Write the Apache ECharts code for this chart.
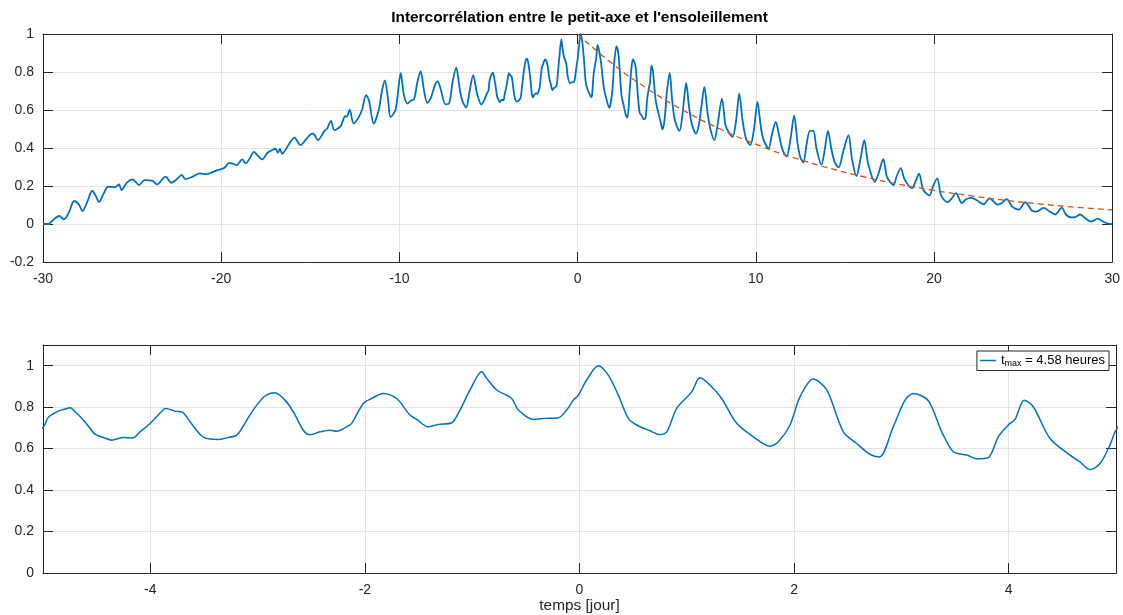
<!DOCTYPE html>
<html><head><meta charset="utf-8">
<script src="https://cdn.jsdelivr.net/npm/echarts@6/dist/echarts.min.js"></script>
<style>html,body{margin:0;padding:0;background:#fff}#c{width:1123px;height:615px}</style>
</head><body><div id="c"></div>
<script>
// Cross-correlation: lag (days) and value
const corrT = [
-30,-29.7,-29.45,-29.09,-28.83,-28.55,-28.25,-28.0,-27.78,-27.5,-27.24,-27.05,-26.85,-26.6,-26.35,-26.15,-25.97,-25.73,-25.6,-25.28,
-24.98,-24.61,-24.3,-23.87,-23.61,-23.12,-22.8,-22.5,-22.21,-22.02,-21.6,-21.22,-20.85,-20.48,-20.21,-19.95,-19.77,-19.56,-19.35,-19.13,
-18.82,-18.63,-18.4,-18.16,-17.95,-17.7,-17.4,-17.14,-16.95,-16.82,-16.7,-16.58,-16.2,-15.89,-15.56,-15.2,-14.9,-14.78,-14.58,-14.2,
-14.06,-13.84,-13.65,-13.3,-13.04,-12.95,-12.79,-12.57,-12.3,-12.1,-11.87,-11.71,-11.44,-11.16,-10.98,-10.82,-10.63,-10.5,-10.22,-10.05,
-9.93,-9.75,-9.55,-9.35,-9.18,-8.99,-8.81,-8.62,-8.43,-8.25,-8.01,-7.86,-7.69,-7.41,-7.22,-7.0,-6.81,-6.63,-6.48,-6.25,
-6.07,-5.86,-5.64,-5.4,-5.2,-5.08,
-5.0,-4.95,-4.857,-4.795,-4.748,-4.70,-4.609,-4.515,-4.438,-4.36,-4.252,-4.164,-4.096,-4.018,-3.94,-3.854,-3.77,-3.698,-3.63,-3.521,
-3.444,-3.366,-3.288,-3.195,-3.1,-3.024,-2.931,-2.838,-2.745,-2.667,-2.574,-2.512,-2.418,-2.325,-2.263,-2.17,-2.123,-2.015,-1.937,-1.828,
-1.704,-1.58,-1.517,-1.409,-1.316,-1.191,-1.114,-1.02,-0.912,-0.865,-0.772,-0.632,-0.57,-0.43,-0.322,-0.197,-0.12,-0.058,-0.011,0.067,
0.175,0.268,0.362,0.455,0.533,0.657,0.75,0.813,0.906,1.046,1.123,1.216,1.325,1.465,1.62,1.775,1.853,1.962,2.055,2.179,
2.304,2.459,2.583,2.707,2.794,2.924,3.034,3.111,3.251,3.376,3.484,3.609,3.702,3.81,3.903,3.996,4.059,4.143,4.229,4.385,
4.571,4.664,4.758,4.851,4.944,5.0,
5.17,5.3,5.45,5.72,5.85,6.0,6.09,6.25,6.4,6.64,6.8,6.95,7.11,7.3,7.45,7.67,7.85,8.1,8.3,8.5,
8.7,8.9,9.07,9.25,9.45,9.69,9.9,10.09,10.3,10.45,10.72,10.9,11.12,11.3,11.5,11.73,11.95,12.15,12.35,12.5,
12.67,12.85,13.04,13.23,13.4,13.68,13.85,14.05,14.25,14.45,14.65,14.9,15.2,15.4,15.65,15.85,16.09,16.3,16.68,16.9,
17.15,17.35,17.5,17.72,17.9,18.13,18.35,18.76,18.95,19.16,19.4,19.74,19.95,20.18,20.4,20.75,21.0,21.23,21.56,21.8,
22.1,22.4,22.78,23.12,23.57,23.8,24.08,24.4,24.76,25.12,25.5,25.75,26.15,26.5,26.8,27.17,27.4,27.7,27.95,28.2,
28.5,28.8,29.18,29.5,29.75,30
];
const corrV = [
0,0.0,0.02,0.042,0.025,0.06,0.121,0.105,0.068,0.12,0.175,0.15,0.116,0.16,0.196,0.195,0.193,0.208,0.179,0.219,
0.235,0.205,0.231,0.228,0.208,0.249,0.217,0.235,0.259,0.236,0.249,0.266,0.262,0.273,0.284,0.29,0.30,0.322,0.318,0.31,
0.34,0.319,0.345,0.38,0.36,0.34,0.375,0.389,0.396,0.375,0.395,0.37,0.42,0.455,0.415,0.45,0.476,0.472,0.441,0.49,
0.502,0.543,0.494,0.515,0.567,0.565,0.602,0.529,0.56,0.60,0.678,0.651,0.529,0.60,0.70,0.756,0.651,0.563,0.60,0.72,
0.795,0.68,0.634,0.65,0.655,0.747,0.805,0.704,0.637,0.66,0.73,0.751,0.712,0.63,0.633,0.756,0.823,0.721,0.651,0.613,
0.695,0.783,0.686,0.629,0.66,0.69,
0.702,0.751,0.781,0.791,0.797,0.778,0.73,0.67,0.654,0.641,0.654,0.651,0.681,0.714,0.754,0.794,0.781,0.775,0.73,0.661,
0.646,0.644,0.652,0.665,0.738,0.799,0.854,0.87,0.834,0.778,0.689,0.667,0.681,0.689,0.684,0.705,0.722,0.818,0.842,0.866,
0.842,0.762,0.741,0.705,0.717,0.725,0.786,0.883,0.971,0.939,0.883,0.842,0.786,0.741,0.746,0.749,0.786,0.834,0.858,0.931,
1.0,0.955,0.858,0.746,0.714,0.686,0.668,0.681,0.794,0.874,0.942,0.907,0.842,0.722,0.657,0.612,0.633,0.714,0.85,0.936,
0.883,0.681,0.625,0.573,0.56,0.705,0.834,0.866,0.831,0.681,0.585,0.569,0.551,0.557,0.657,0.714,0.741,0.834,0.802,0.649,
0.569,0.536,0.499,0.528,0.617,0.689,
0.795,0.66,0.55,0.49,0.55,0.68,0.742,0.62,0.53,0.476,0.52,0.62,0.721,0.58,0.50,0.441,0.52,0.66,0.52,0.48,
0.459,0.55,0.686,0.55,0.45,0.415,0.50,0.642,0.50,0.44,0.398,0.47,0.537,0.47,0.39,0.356,0.45,0.57,0.42,0.35,
0.324,0.42,0.49,0.49,0.40,0.312,0.38,0.49,0.39,0.32,0.298,0.38,0.467,0.34,0.252,0.33,0.441,0.32,0.222,0.27,
0.341,0.25,0.225,0.205,0.25,0.294,0.235,0.188,0.22,0.265,0.18,0.15,0.20,0.24,0.15,0.115,0.135,0.163,0.11,0.13,
0.138,0.125,0.104,0.135,0.102,0.11,0.131,0.09,0.076,0.115,0.07,0.065,0.085,0.065,0.05,0.086,0.05,0.035,0.038,0.05,
0.03,0.012,0.028,0.012,0.002,0.0
];
// Dashed decay envelope
const fitT = [0,2,4,6,8,10,12,14,16,18,20,22,24,26,28,30];
const fitV = [1.0,0.84,0.707,0.595,0.50,0.42,0.353,0.297,0.25,0.21,0.177,0.149,0.125,0.105,0.088,0.074];

const titleText = "Intercorrélation entre le petit-axe et l'ensoleillement";
const xName = 'temps [jour]';
const legendName = 'tmax';

const FONT = '"Liberation Sans", Arial, Helvetica, sans-serif';
const AX = '#262626';
const GRIDC = '#e3e3e3';
const BLUE = '#0072BD';
const ORANGE = '#D95319';

const corrData = corrT.map((t, i) => [t, corrV[i]]);
const fitData = fitT.map((t, i) => [t, fitV[i]]);

function yFmt(v) { if (v > 1.05) return ''; return String(Math.round(v * 10) / 10); }

function mainX(grid, min, max, interval, extra) {
  return Object.assign({
    type: 'value', gridIndex: grid, min: min, max: max, interval: interval, position: 'bottom',
    axisLine: { show: true, onZero: false, lineStyle: { color: AX, width: 1 } },
    axisTick: { show: true, inside: true, length: 10, lineStyle: { color: AX, width: 1 } },
    axisLabel: { color: AX, fontSize: 14, fontFamily: FONT, margin: 10 },
    splitLine: { show: true, lineStyle: { color: GRIDC, width: 1 } }
  }, extra || {});
}
function frameX(grid, min, max, interval) {
  return {
    type: 'value', gridIndex: grid, min: min, max: max, interval: interval, position: 'top',
    axisLine: { show: true, onZero: false, lineStyle: { color: AX, width: 1 } },
    axisTick: { show: true, inside: true, length: 10, lineStyle: { color: AX, width: 1 } },
    axisLabel: { show: false }, splitLine: { show: false }
  };
}
function mainY(grid, min, max, interval) {
  return {
    type: 'value', gridIndex: grid, min: min, max: max, interval: interval, position: 'left',
    axisLine: { show: true, onZero: false, lineStyle: { color: AX, width: 1 } },
    axisTick: { show: true, inside: true, length: 10, lineStyle: { color: AX, width: 1 } },
    axisLabel: { color: AX, fontSize: 14, fontFamily: FONT, margin: 9, formatter: yFmt, showMaxLabel: true },
    splitLine: { show: true, lineStyle: { color: GRIDC, width: 1 } }
  };
}
function frameY(grid, min, max, interval) {
  return {
    type: 'value', gridIndex: grid, min: min, max: max, interval: interval, position: 'right',
    axisLine: { show: true, onZero: false, lineStyle: { color: AX, width: 1 } },
    axisTick: { show: true, inside: true, length: 10, lineStyle: { color: AX, width: 1 } },
    axisLabel: { show: false }, splitLine: { show: false }
  };
}

const chart = echarts.init(document.getElementById('c'), null, { renderer: 'canvas' });
chart.setOption({
  animation: false,
  backgroundColor: '#fff',
  textStyle: { fontFamily: FONT },
  graphic: [{
    type: 'text', x: 579.5, y: 18,
    style: { text: titleText, textAlign: 'center', textVerticalAlign: 'middle',
      font: 'bold 15.4px "Liberation Sans", Arial, sans-serif', fill: '#000' }
  }],
  grid: [
    { left: 43, right: 7, top: 34, height: 228, containLabel: false },
    { left: 43, right: 7, top: 345, height: 228, containLabel: false }
  ],
  xAxis: [
    mainX(0, -30, 30, 10),
    frameX(0, -30, 30, 10),
    mainX(1, -5, 5, undefined, {
      splitNumber: 5,
      axisLabel: { color: AX, fontSize: 14, fontFamily: FONT, margin: 10,
        formatter: v => (Math.abs(v) > 4.5 ? '' : String(v)) },
      name: xName, nameLocation: 'middle', nameGap: 24,
      nameTextStyle: { color: AX, fontSize: 15.4, fontFamily: FONT }
    }),
    frameX(1, -5, 5, undefined)
  ],
  yAxis: [
    mainY(0, -0.2, 1, 0.2),
    frameY(0, -0.2, 1, 0.2),
    mainY(1, 0, 1.1, 0.2),
    frameY(1, 0, 1.1, 0.2)
  ],
  legend: {
    show: true, right: 14, top: 351, orient: 'horizontal',
    data: [{ name: legendName, icon: 'rect' }],
    backgroundColor: '#fff', borderColor: AX, borderWidth: 1, borderRadius: 0,
    padding: [3, 4, 2, 3], itemWidth: 16, itemHeight: 1.5, itemGap: 4,
    formatter: () => '{a|t}{s|max}{a| = 4.58 heures}',
    textStyle: { color: '#000', fontFamily: FONT, fontSize: 13,
      rich: { a: { fontSize: 13, fontFamily: FONT, color: '#000' },
              s: { fontSize: 9, fontFamily: FONT, color: '#000', padding: [7, 0, 0, 0] } } }
  },
  series: [
    { type: 'line', name: 'corr', xAxisIndex: 0, yAxisIndex: 0, data: corrData,
      symbol: 'none', smooth: 0.3, lineStyle: { color: BLUE, width: 1.8 }, itemStyle: { color: BLUE }, z: 3 },
    { type: 'line', name: 'fit', xAxisIndex: 0, yAxisIndex: 0, data: fitData,
      symbol: 'none', smooth: 0.5, lineStyle: { color: ORANGE, width: 1.3, type: [6, 4] }, itemStyle: { color: ORANGE }, z: 4 },
    { type: 'line', name: legendName, xAxisIndex: 2, yAxisIndex: 2, data: corrData,
      symbol: 'none', smooth: 0.3, lineStyle: { color: BLUE, width: 1.5 }, itemStyle: { color: BLUE }, z: 3 }
  ]
});
</script>
</body></html>
